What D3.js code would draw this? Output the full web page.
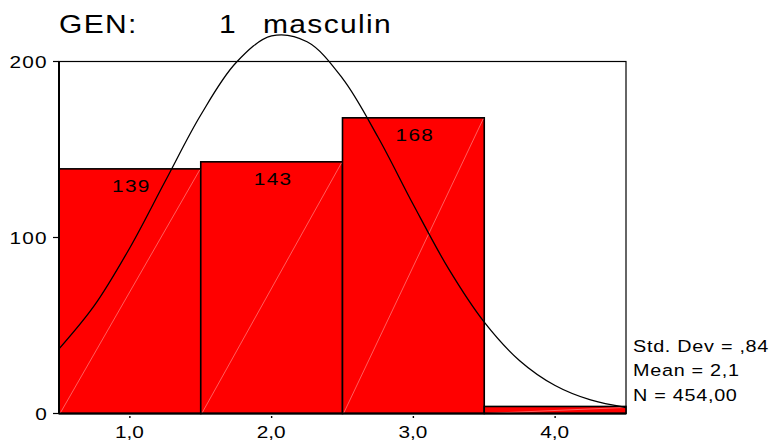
<!DOCTYPE html>
<html>
<head>
<meta charset="utf-8">
<script src="https://cdn.jsdelivr.net/npm/d3@7/dist/d3.min.js"></script>
<style>
  body { margin: 0; background: white; }
  text { font-family: "Liberation Sans", Arial, sans-serif; fill: black; }
</style>
</head>
<body>
<div id="plot"></div>
<script>

// histogram bins (lower / upper edge) and counts
var binLow   = [0.5, 1.5, 2.5, 3.5];
var binHigh  = [1.5, 2.5, 3.5, 4.5];
var counts   = [139, 143, 168, 4];

// axis ticks
var xTicks      = [1, 2, 3, 4];
var xTickLabels = ["1,0", "2,0", "3,0", "4,0"];
var yTicks      = [0, 100, 200];

// fitted normal curve, every 0.25
var curveX = [0.5, 0.75, 1.0, 1.25, 1.5, 1.75, 2.0, 2.25, 2.5,
              2.75, 3.0, 3.25, 3.5, 3.75, 4.0, 4.25, 4.5];
var curveY = [36.7, 61.4, 94.2, 132.1, 169.6, 199.4, 214.5, 211.2, 190.4,
              157.1, 118.6, 82.0, 51.9, 30.0, 15.9, 7.7, 3.4];

var titleParts = ["GEN:", "1", "masculin"];
var statLines  = ["Std. Dev = ,84", "Mean = 2,1", "N = 454,00"];


var W = 783, H = 441;
var margin = {left: 59, top: 61.5, right: 157, bottom: 27.5};
var width  = W - margin.left - margin.right;
var height = H - margin.top - margin.bottom;

// the original output uses a wide sans; stretch Liberation Sans sideways
function place(x, y, sx) {
    return "translate(" + x + "," + y + ") scale(" + sx + ",1)";
}

var svg = d3.select("#plot").append("svg")
    .attr("width", W)
    .attr("height", H);

var g = svg.append("g")
    .attr("transform", "translate(" + margin.left + "," + margin.top + ")");

var xScale = d3.scaleLinear().domain([0.5, 4.5]).range([0, width]);
var yScale = d3.scaleLinear().domain([0, 200]).range([height, 0]);

// 1. plot frame
g.append("rect")
    .attr("width", width)
    .attr("height", height)
    .attr("fill", "white")
    .attr("stroke", "black")
    .attr("stroke-width", 1.2);

// 2. bars
var bars = d3.range(counts.length);

g.selectAll("rect.bar").data(bars).enter().append("rect")
    .attr("class", "bar")
    .attr("x", function(i) { return xScale(binLow[i]); })
    .attr("y", function(i) { return yScale(counts[i]); })
    .attr("width", function(i) { return xScale(binHigh[i]) - xScale(binLow[i]); })
    .attr("height", function(i) { return yScale(0) - yScale(counts[i]); })
    .attr("fill", "#ff0000")
    .attr("stroke", "black")
    .attr("stroke-width", 1.6);

// faint diagonal in each bar
g.selectAll("line.diag").data(bars).enter().append("line")
    .attr("class", "diag")
    .attr("x1", function(i) { return xScale(binLow[i]) + 1; })
    .attr("y1", yScale(0))
    .attr("x2", function(i) { return xScale(binHigh[i]) - 1; })
    .attr("y2", function(i) { return yScale(counts[i]) + 1; })
    .attr("stroke", "#ff9c9c")
    .attr("stroke-width", 0.6);

// count labels
g.selectAll("text.count").data(bars.slice(0, 3)).enter().append("text")
    .attr("class", "count")
    .attr("transform", function(i) {
        return place((xScale(binLow[i]) + xScale(binHigh[i])) / 2 + 1.5,
                     yScale(counts[i]) + 23.5, 1.3);
    })
    .attr("text-anchor", "middle")
    .style("font-size", "16px")
    .style("letter-spacing", "1px")
    .text(function(i) { return counts[i]; });

// 3. normal curve
var line = d3.line()
    .x(function(d, i) { return xScale(curveX[i]); })
    .y(function(d)    { return yScale(d); })
    .curve(d3.curveCatmullRom);

g.append("path")
    .datum(curveY)
    .attr("fill", "none")
    .attr("stroke", "black")
    .attr("stroke-width", 1.3)
    .attr("d", line);

// 4. axes
g.append("line")
    .attr("x1", 0).attr("x2", 0)
    .attr("y1", 0).attr("y2", height)
    .attr("stroke", "black").attr("stroke-width", 2);
g.append("line")
    .attr("x1", 0).attr("x2", width)
    .attr("y1", height).attr("y2", height)
    .attr("stroke", "black").attr("stroke-width", 2);

g.selectAll("line.ytick").data(yTicks).enter().append("line")
    .attr("x1", -6).attr("x2", 0)
    .attr("y1", function(d) { return yScale(d); })
    .attr("y2", function(d) { return yScale(d); })
    .attr("stroke", "black").attr("stroke-width", 1.2);

g.selectAll("text.ytick").data(yTicks).enter().append("text")
    .attr("transform", function(d) { return place(-11, yScale(d) + 6, 1.3); })
    .attr("text-anchor", "end")
    .style("font-size", "16px")
    .style("letter-spacing", "1px")
    .text(function(d) { return d; });

g.selectAll("rect.xtick").data(xTicks).enter().append("rect")
    .attr("x", function(d) { return xScale(d) - 0.7; })
    .attr("y", height + 2.5)
    .attr("width", 1.4)
    .attr("height", 2)
    .attr("fill", "black");

g.selectAll("text.xtick").data(xTicks).enter().append("text")
    .attr("transform", function(d) { return place(xScale(d) - 0.5, height + 24, 1.3); })
    .attr("text-anchor", "middle")
    .style("font-size", "16px")
    .text(function(d, i) { return xTickLabels[i]; });

// 5. title
var titleX = [59, 219, 263];
svg.selectAll("text.title").data(titleParts).enter().append("text")
    .attr("transform", function(d, i) { return place(titleX[i], 33, 1.2); })
    .style("font-size", "25px")
    .style("letter-spacing", "1.1px")
    .text(function(d) { return d; });

// 6. summary statistics
svg.selectAll("text.stat").data(statLines).enter().append("text")
    .attr("transform", function(d, i) { return place(633, 351.7 + i * 24.7, 1.2); })
    .style("font-size", "16.5px")
    .style("letter-spacing", "0.6px")
    .text(function(d) { return d; });

</script>
</body>
</html>
